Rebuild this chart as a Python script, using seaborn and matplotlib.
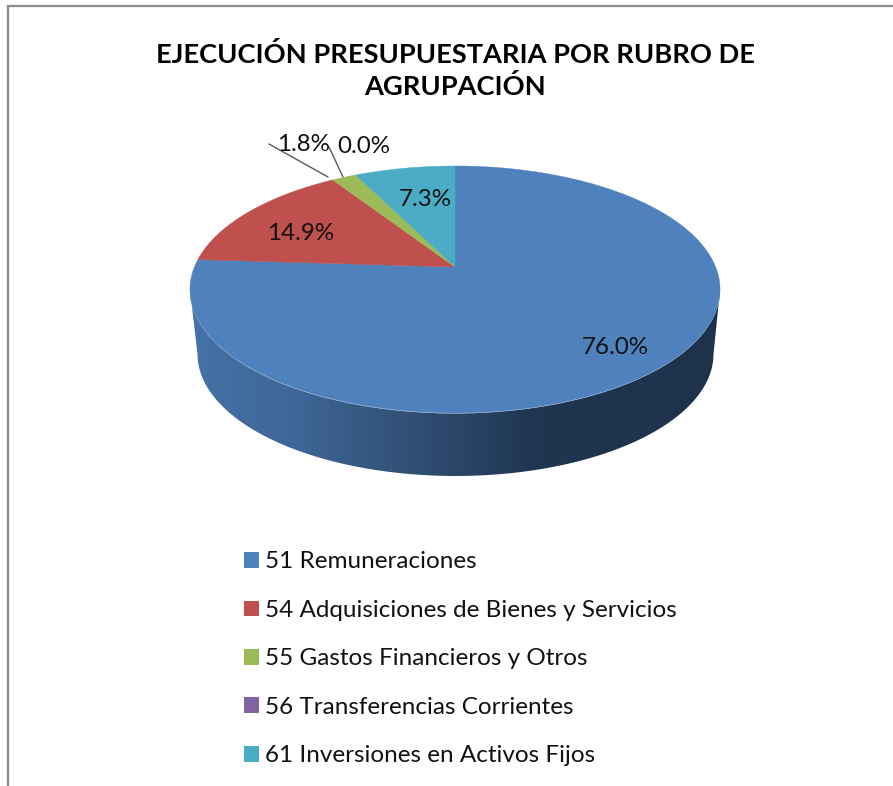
import numpy as np
import matplotlib
matplotlib.use("Agg")
import matplotlib.pyplot as plt
from matplotlib.patches import Patch, PathPatch
from matplotlib.path import Path
from matplotlib.colors import LinearSegmentedColormap
import seaborn as sns

categories = ["51 Remuneraciones", "54 Adquisiciones de Bienes y Servicios",
              "55 Gastos Financieros y Otros", "56 Transferencias Corrientes",
              "61 Inversiones en Activos Fijos"]
values = [76.0, 14.9, 1.8, 0.0, 7.3]
colors = ["#4F81BD", "#C0504D", "#9BBB59", "#8064A2", "#4BACC6"]
title = "EJECUCIÓN PRESUPUESTARIA POR RUBRO DE\nAGRUPACIÓN"

sns.set_theme(style="white")
plt.rcParams["font.family"] = ["Lato", "DejaVu Sans"]
palette = sns.color_palette(colors)

fig = plt.figure(figsize=(8.93, 7.86), dpi=100, facecolor="white")
ax = fig.add_axes([0, 0, 1, 1])
ax.set_xlim(0, 893)
ax.set_ylim(786, 0)
ax.axis("off")

# Perspective projection of the unit disc onto the pie's top face
CX, CY, A, B, K = 455.0, 267.0, 260.6, 119.4, 0.182


def project(x, y):
    d = 1 + K * y
    return CX + A * x / d, CY - B * y / d


def wedge(start, stop):
    t = np.radians(np.linspace(start, stop, max(int(abs(stop - start) * 2), 2)))
    sx, sy = project(np.sin(t), np.cos(t))
    return np.r_[CX, sx], np.r_[CY, sy]


# Side wall
theta = np.radians(np.linspace(90, 270, 361))
top_x, top_y = 455 + 265 * np.sin(theta), 290 + 123.5 * -np.cos(theta)
bot_x, bot_y = 455.5 + 258 * np.sin(theta), 354 + 122 * -np.cos(theta)
wall = Path(np.c_[np.r_[top_x, bot_x[::-1], top_x[0]], np.r_[top_y, bot_y[::-1], top_y[0]]])
cmap = LinearSegmentedColormap.from_list(
    "wall",
    [(0.0, "#4672A8"), (0.20, "#3F6696"), (0.50, "#2B4668"),
     (0.66, "#1F3550"), (1.0, "#1E324C")],
)
grad = ax.imshow(np.linspace(0, 1, 256)[None, :], cmap=cmap, aspect="auto",
                 extent=[190, 720, 480, 280], zorder=1)
ax.set_xlim(0, 893)
ax.set_ylim(786, 0)
clip = PathPatch(wall, transform=ax.transData, fc="none", ec="none")
ax.add_patch(clip)
grad.set_clip_path(clip)

# Top face
angle = 0.0
for v, c in zip(values, palette):
    stop = angle + v * 3.6
    if v > 0:
        wx, wy = wedge(angle, stop)
        ax.fill(wx, wy, color=c, lw=0.3, zorder=2)
    angle = stop

# Data labels
label_pos = [(615, 348), (301, 234), (303, 144.5), (364, 146.5), (425, 199.5)]
for v, (lx, ly) in zip(values, label_pos):
    ax.text(lx, ly, f"{v:.1f}%", fontsize=17.4, color="#111111",
            ha="center", va="center", zorder=4)

# Leader lines
ax.plot([269, 328], [144, 177], color="#595959", lw=1.0, zorder=3)
ax.plot([329, 343], [147, 177], color="#595959", lw=1.0, zorder=3)

# Title
ax.text(455, 70.5, title, fontsize=19.6, fontweight="bold", color="black",
        ha="center", va="center", linespacing=1.38, zorder=4)

# Legend
handles = [Patch(facecolor=c, edgecolor="none", label=n) for c, n in zip(palette, categories)]
ax.legend(handles=handles, loc="upper left", bbox_to_anchor=(244 / 893, 1 - 551.5 / 786),
          frameon=False, fontsize=17.5, labelcolor="#111111", handlelength=0.617,
          handleheight=0.617, handletextpad=0.245, labelspacing=1.13,
          borderaxespad=0, borderpad=0)

# Outer frame clipped by the page
ax.plot([8, 8, 893], [786, 6, 6], color="#8C8C8C", lw=1.6, zorder=5,
        solid_joinstyle="miter")

fig.savefig("out.png", dpi=100, facecolor="white")
